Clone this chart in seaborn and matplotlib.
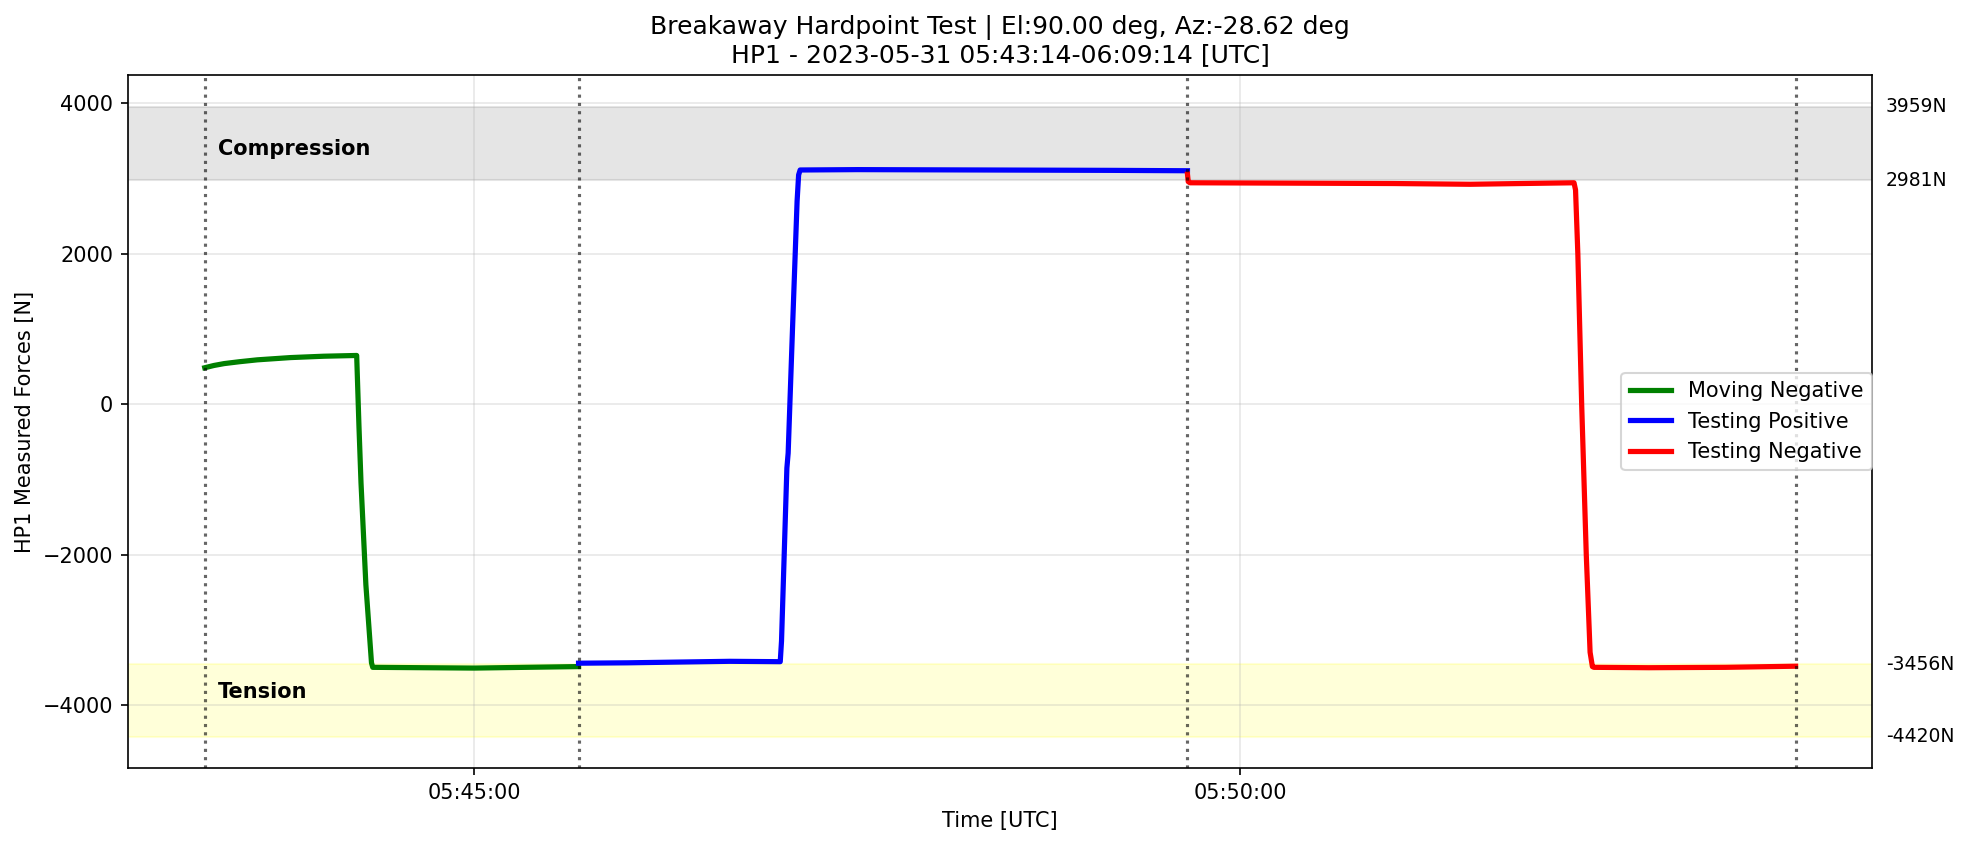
import pandas as pd
import numpy as np
import matplotlib
matplotlib.use("Agg")
import matplotlib.pyplot as plt
import matplotlib.dates as mdates
import seaborn as sns

DAY = "2023-05-31 "

# Moving Negative (green)
green_time = ["05:43:14.4", "05:43:18.0", "05:43:22.0", "05:43:28.0", "05:43:35.0",
              "05:43:48.0", "05:44:01.0", "05:44:13.9", "05:44:14.8", "05:44:15.6",
              "05:44:17.5", "05:44:19.7", "05:44:20.2", "05:44:40.0", "05:45:00.0",
              "05:45:20.0", "05:45:40.8"]
green_force = [485, 515, 540, 565, 590, 620, 638, 648, -300, -1050,
               -2400, -3440, -3500, -3505, -3510, -3500, -3490]

# Testing Positive (blue)
blue_time = ["05:45:40.8", "05:46:00.0", "05:46:20.0", "05:46:40.0", "05:46:59.8",
             "05:47:00.3", "05:47:02.4", "05:47:02.9", "05:47:04.6", "05:47:06.4",
             "05:47:07.0", "05:47:07.6", "05:47:30.0", "05:48:20.0", "05:49:10.0",
             "05:49:39.3"]
blue_force = [-3445, -3440, -3430, -3420, -3425, -3150, -850, -650, 1000, 2700,
              3050, 3115, 3120, 3115, 3110, 3105]

# Testing Negative (red)
red_time = ["05:49:39.3", "05:49:39.6", "05:49:40.3", "05:50:20.0", "05:51:00.0",
            "05:51:30.0", "05:51:50.0", "05:52:10.7", "05:52:11.3", "05:52:12.2",
            "05:52:13.7", "05:52:15.5", "05:52:17.0", "05:52:17.9", "05:52:18.5",
            "05:52:40.0", "05:53:10.0", "05:53:37.5"]
red_force = [3060, 2960, 2945, 2940, 2935, 2925, 2935, 2945, 2850, 2000,
             0, -2000, -3300, -3490, -3500, -3505, -3500, -3485]

# step boundaries
step_times = ["05:43:14.4", "05:45:40.8", "05:49:39.3", "05:53:37.5"]
x_range = ["05:42:44.3", "05:54:07.4"]

# limit bands
compression = (2981, 3959)
tension = (-4420, -3456)

series = [
    ("Moving Negative", green_time, green_force, "green"),
    ("Testing Positive", blue_time, blue_force, "blue"),
    ("Testing Negative", red_time, red_force, "red"),
]

fig, ax = plt.subplots(figsize=(1968 / 150, 846 / 150), dpi=150)
fig.subplots_adjust(left=0.065, right=0.9512, top=0.9113, bottom=0.0922)

ax.axhspan(compression[0], compression[1], color="gray", alpha=0.2)
ax.axhspan(tension[0], tension[1], color="yellow", alpha=0.15)

for label, times, force, color in series:
    df = pd.DataFrame({"time": pd.to_datetime([DAY + t for t in times]), "force": force})
    sns.lineplot(data=df, x="time", y="force", ax=ax, color=color, linewidth=2.5, label=label)

for t in step_times:
    ax.axvline(pd.Timestamp(DAY + t), color="black", linestyle=":", linewidth=1.5, alpha=0.6)

t0 = pd.Timestamp(DAY + step_times[0]) + pd.Timedelta(seconds=5)
ax.text(t0, 3400, "Compression", fontsize=10, fontweight="bold", va="center", ha="left")
ax.text(t0, -3830, "Tension", fontsize=10, fontweight="bold", va="center", ha="left")

trans = ax.get_yaxis_transform()
for v in [compression[1], compression[0], tension[1], tension[0]]:
    ax.text(1.008, v, f"{v}N", transform=trans, fontsize=9, va="center", ha="left")

ax.set_xlim(pd.Timestamp(DAY + x_range[0]), pd.Timestamp(DAY + x_range[1]))
ax.xaxis.set_major_locator(mdates.MinuteLocator(byminute=range(0, 60, 5)))
ax.xaxis.set_major_formatter(mdates.DateFormatter("%H:%M:%S"))
ax.grid(alpha=0.3)
ax.set_xlabel("Time [UTC]")
ax.set_ylabel("HP1 Measured Forces [N]")
ax.set_title("Breakaway Hardpoint Test | El:90.00 deg, Az:-28.62 deg\n"
             "HP1 - 2023-05-31 05:43:14-06:09:14 [UTC]", fontsize=12)
ax.legend(loc="center right", borderaxespad=0)

fig.savefig("out.png", dpi=150)
